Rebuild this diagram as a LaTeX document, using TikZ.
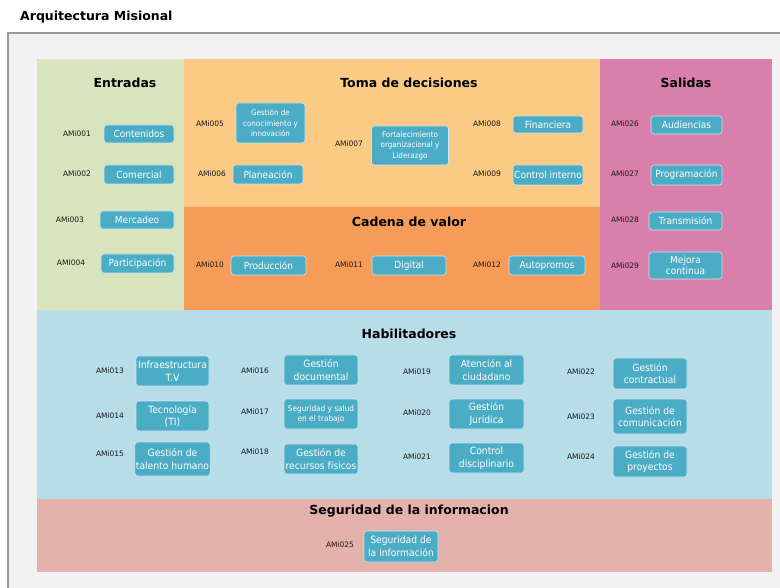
\documentclass[tikz,border=0pt]{standalone}
\usepackage{fontspec}
\setmainfont{DejaVu Sans}
\newfontfamily\boxfont[FakeStretch=0.92]{DejaVu Sans}
\usepackage{tikz}
\definecolor{verde}{HTML}{D7E4BD}
\definecolor{naranja}{HTML}{FBCB86}
\definecolor{cadena}{HTML}{F59D58}
\definecolor{rosa}{HTML}{D97FAC}
\definecolor{celeste}{HTML}{B7DEE8}
\definecolor{salmon}{HTML}{E5B2AB}
\definecolor{cajaazul}{HTML}{4BACC6}
\definecolor{fondo}{HTML}{F2F2F2}

\begin{document}
\begin{tikzpicture}[
                    x = 1pt,
                    y = -1pt,
                    caja/.style = {rectangle, rounded corners=3pt, fill=cajaazul,
                                   draw=white!70!cajaazul, line width=0.6pt, text=white,
                                   align=center, inner sep=1pt,
                                   font=\boxfont\fontsize{9.8}{11}\selectfont},
                    hab/.style = {caja, font=\boxfont\fontsize{10}{12.5}\selectfont},
                    chica/.style = {caja, font=\boxfont\fontsize{7.8}{10.5}\selectfont},
                    codigo/.style = {text=black!90, inner sep=0pt,
                                     font=\fontsize{7.5}{9}\selectfont},
                    titulo/.style = {inner sep=0pt, font=\bfseries\fontsize{12.5}{15}\selectfont}]

\useasboundingbox (0,0) rectangle (780,588);

%page title
\node [titulo, anchor=west] (arq) at (20,17) {Arquitectura Misional};

%frame
\fill [fondo] (8,33) rectangle (782,590);
\draw [black!40, line width=1.2pt] (8,590) -- (8,33) -- (782,33);

%panels
\fill [verde]   (37,59)   rectangle (184,310);
\fill [naranja] (184,59)  rectangle (600,207);
\fill [cadena]  (184,207) rectangle (600,310);
\fill [rosa]    (600,59)  rectangle (772,310);
\fill [celeste] (37,310)  rectangle (772,499);
\fill [salmon]  (37,499)  rectangle (772,572);

%titles
\node [titulo] (tentradas) at (125,83)  {Entradas};
\node [titulo] (ttoma)     at (409,83)  {Toma de decisiones};
\node [titulo] (tsalidas)  at (686,83)  {Salidas};
\node [titulo] (tcadena)   at (409,222) {Cadena de valor};
\node [titulo] (thab)      at (409,334) {Habilitadores};
\node [titulo] (tseg)      at (409,511) {Seguridad de la informacion};

%entradas
\node [codigo] (l001) at (77,134) {AMi001};
\node [caja, minimum width=70, minimum height=18] (b001) at (139,134) {Contenidos};
\node [codigo] (l002) at (77,174) {AMi002};
\node [caja, minimum width=70, minimum height=19] (b002) at (139,174.5) {Comercial};
\node [codigo] (l003) at (70,220) {AMi003};
\node [caja, minimum width=74, minimum height=18] (b003) at (137,220) {Mercadeo};
\node [codigo] (l004) at (71,263) {AMI004};
\node [caja, minimum width=73, minimum height=19] (b004) at (137.5,263.5) {Participación};

%toma de decisiones
\node [codigo] (l005) at (210,124) {AMi005};
\node [chica, minimum width=69, minimum height=40] (b005) at (270.5,123) {Gestión de\\conocimiento y\\innovación};
\node [codigo] (l006) at (212,174) {AMi006};
\node [caja, minimum width=70, minimum height=19] (b006) at (268,174.5) {Planeación};
\node [codigo] (l007) at (349,144) {AMi007};
\node [chica, minimum width=77, minimum height=39] (b007) at (410,145.5) {Fortalecimiento\\organizacional y\\Liderazgo};
\node [codigo] (l008) at (487,124) {AMi008};
\node [caja, minimum width=70, minimum height=17] (b008) at (548,124.5) {Financiera};
\node [codigo] (l009) at (487,174) {AMi009};
\node [caja, minimum width=70, minimum height=20] (b009) at (548,175) {Control interno};

%salidas
\node [codigo] (l026) at (625,124) {AMi026};
\node [caja, minimum width=71, minimum height=18] (b026) at (686.5,125) {Audiencias};
\node [codigo] (l027) at (625,174) {AMi027};
\node [caja, minimum width=71, minimum height=20] (b027) at (686.5,175) {Programación};
\node [codigo] (l028) at (625,220) {AMi028};
\node [caja, minimum width=73, minimum height=18] (b028) at (685.5,221) {Transmisión};
\node [codigo] (l029) at (625,266) {AMi029};
\node [caja, minimum width=73, minimum height=27] (b029) at (685.5,265.5) {Mejora\\continua};

%cadena de valor
\node [codigo] (l010) at (210,265) {AMi010};
\node [caja, minimum width=75, minimum height=19] (b010) at (268.5,265.5) {Producción};
\node [codigo] (l011) at (349,265) {AMi011};
\node [caja, minimum width=74, minimum height=19] (b011) at (409,265.5) {Digital};
\node [codigo] (l012) at (487,265) {AMi012};
\node [caja, minimum width=76, minimum height=19] (b012) at (547,265.5) {Autopromos};

%habilitadores, 1st column
\node [codigo] (l013) at (110,371) {AMi013};
\node [hab, minimum width=73, minimum height=30] (b013) at (172.5,371) {Infraestructura\\T.V};
\node [codigo] (l014) at (110,416) {AMi014};
\node [hab, minimum width=73, minimum height=30] (b014) at (172.5,416) {Tecnología\\(TI)};
\node [codigo] (l015) at (110,454) {AMi015};
\node [hab, minimum width=73, minimum height=34] (b015) at (172.5,459) {Gestión de\\talento humano};
%2nd column
\node [codigo] (l016) at (255,371) {AMi016};
\node [hab, minimum width=74, minimum height=30] (b016) at (321,370) {Gestión\\documental};
\node [codigo] (l017) at (255,412) {AMi017};
\node [caja, font=\boxfont\fontsize{8}{10}\selectfont, minimum width=74, minimum height=30] (b017) at (321,414) {Seguridad y salud\\en el trabajo};
\node [codigo] (l018) at (255,452) {AMi018};
\node [hab, minimum width=74, minimum height=30] (b018) at (321,459) {Gestión de\\recursos físicos};
%3rd column
\node [codigo] (l019) at (417,372) {AMi019};
\node [hab, minimum width=75, minimum height=30] (b019) at (486.5,370) {Atención al\\ciudadano};
\node [codigo] (l020) at (417,413) {AMi020};
\node [hab, minimum width=75, minimum height=30] (b020) at (486.5,414) {Gestión\\Jurídica};
\node [codigo] (l021) at (417,457) {AMi021};
\node [hab, minimum width=75, minimum height=30] (b021) at (486.5,458) {Control\\disciplinario};
%4th column
\node [codigo] (l022) at (581,372) {AMi022};
\node [hab, minimum width=74, minimum height=31] (b022) at (650,373.5) {Gestión\\contractual};
\node [codigo] (l023) at (581,417) {AMi023};
\node [hab, minimum width=74, minimum height=35] (b023) at (650,416.5) {Gestión de\\comunicación};
\node [codigo] (l024) at (581,457) {AMi024};
\node [hab, minimum width=74, minimum height=31] (b024) at (650,461.5) {Gestión de\\proyectos};

%seguridad de la informacion
\node [codigo] (l025) at (340,545) {AMi025};
\node [hab, minimum width=74, minimum height=31] (b025) at (401,546.5) {Seguridad de\\la información};

\end{tikzpicture}
\end{document}
